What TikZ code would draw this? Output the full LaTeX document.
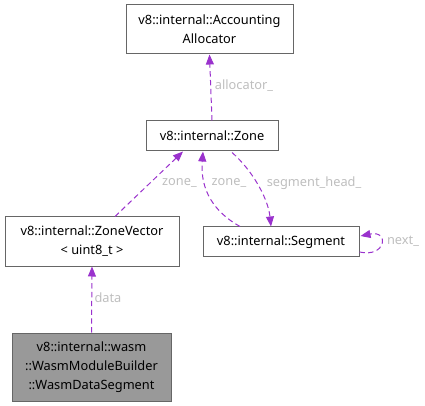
\documentclass[tikz,border=0pt]{standalone}
\usepackage{fontspec}
\setmainfont{Noto Sans}
\usetikzlibrary{arrows.meta,calc}
\definecolor{edgepurple}{HTML}{9A32CD}
\definecolor{labelgrey}{HTML}{BEBEBE}
\definecolor{boxborder}{HTML}{666666}
\definecolor{mainfill}{HTML}{999999}
\tikzset{
    classbox/.style={draw=boxborder, line width=0.75pt, fill=white, align=center,
        font=\fontsize{9.6}{14.2}\selectfont, inner sep=0pt},
    usage/.style={draw=edgepurple, line width=0.75pt, dash pattern=on 4pt off 2.6pt,
        -{Triangle[length=7.5pt,width=6pt,fill=edgepurple]}},
    edgelabel/.style={text=labelgrey, font=\fontsize{9.6}{12}\selectfont}
}
\begin{document}
\begin{tikzpicture}[x=0.75pt, y=-0.75pt]
    \useasboundingbox (0,0) rectangle (425,406);
    % classes
    \node[classbox, minimum width=125.25pt, minimum height=36.75pt]
        (alloc) at (209.5, 29.5) {v8::internal::Accounting\\Allocator};
    \node[classbox, minimum width=99pt, minimum height=22.5pt]
        (zone) at (212, 136) {v8::internal::Zone};
    \node[classbox, minimum width=117pt, minimum height=22.5pt]
        (seg) at (281, 242) {v8::internal::Segment};
    \node[classbox, minimum width=130.5pt, minimum height=36.75pt]
        (zvec) at (92, 241.5) {v8::internal::ZoneVector\\< uint8\_t >};
    \node[classbox, fill=mainfill, minimum width=119.25pt, minimum height=51pt]
        (wds) at (91.5, 367) {v8::internal::wasm\\::WasmModuleBuilder\\::WasmDataSegment};
    % member links
    \draw[usage] ($(zone.north)+(0,0)$) -- (alloc.south);
    \node[edgelabel] (lalloc) at (244, 86) {allocator\_};
    \draw[usage] ($(zvec.north)+(23,0)$) -- ($(zone.south)+(-29,0)$);
    \node[edgelabel] (lzone1) at (179.5, 183) {zone\_};
    \draw[usage] ($(seg.north)+(-41,0)$) .. controls (214,212) and (200,190) .. ($(zone.south)+(-9,0)$);
    \node[edgelabel] (lzone2) at (229, 183) {zone\_};
    \draw[usage] ($(zone.south)+(20,1)$) .. controls (252,170) and (268,198) .. ($(seg.north)+(-10,0)$);
    \node[edgelabel] (lhead) at (314, 183) {segment\_head\_};
    \draw[usage] ($(seg.east)+(0,10)$) .. controls (386,258) and (390,230) .. ($(seg.east)+(1,-6)$);
    \node[edgelabel] (lnext) at (403, 241) {next\_};
    \draw[usage] (wds.north) -- (zvec.south);
    \node[edgelabel] (ldata) at (108, 298) {data};
\end{tikzpicture}
\end{document}
